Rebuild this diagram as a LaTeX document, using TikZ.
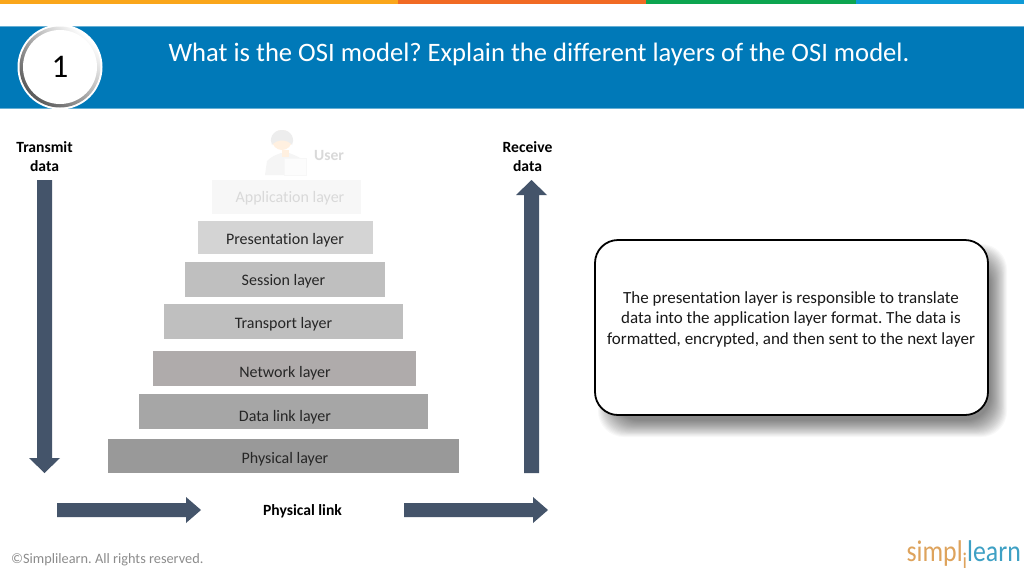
\documentclass[tikz,border=0pt]{standalone}
\usepackage{xcolor}
\usepackage{fontspec}
\setmainfont{Carlito}[Ligatures=CommonOff]
\frenchspacing
\usetikzlibrary{calc}
\definecolor{stripA}{RGB}{250,166,26}
\definecolor{stripB}{RGB}{241,106,36}
\definecolor{stripC}{RGB}{13,165,80}
\definecolor{stripD}{RGB}{15,155,215}
\definecolor{banner}{RGB}{0,121,184}
\definecolor{slate}{RGB}{68,84,106}
\definecolor{netgray}{RGB}{175,171,171}
\definecolor{logoA}{RGB}{222,163,92}
\definecolor{logoB}{RGB}{62,160,196}
\tikzset{
  layertext/.style={font=\fontsize{16}{19}\selectfont, text=black!85, inner sep=0pt},
  headtext/.style={font=\fontsize{15.6}{19}\selectfont\bfseries, align=center, inner sep=0pt},
}

\begin{document}
\begin{tikzpicture}[x=1pt,y=-1pt]

% ---- page ----
\useasboundingbox (0,0) rectangle (1024,576);
\fill[white] (0,0) rectangle (1024,576);

% Colour strip on top
\fill[stripA] (0,0) rectangle (398,4);
\fill[stripB] (398,0) rectangle (646,4);
\fill[stripC] (646,0) rectangle (856,4);
\fill[stripD] (856,0) rectangle (1024,4);

% Banner
\fill[banner] (0,26) rectangle (1024,108);
\draw[banner!60!white, line width=0.6pt] (0,26) -- (1024,26) (0,108) -- (1024,108);

% Number disc
\fill[white] (60,67) circle (42.5);
\shade[left color=white, right color=black!65, shading angle=-45] (60,67) circle (40.5);
\fill[white] (60,67) circle (37);
\node[inner sep=0pt, font=\fontsize{33}{33}\selectfont] (num) at (60,67) {1};
\node[inner sep=0pt, text=white, font=\fontsize{26.6}{30}\selectfont] (title) at (539,54)
  {What is the OSI model? Explain the different layers of the OSI model.};

% Block arrows (tail point, then tip: down, up, right)
\newcommand{\arrowdown}[3]{%
  \fill[slate] (#1-7.5,#2) -- (#1+7.5,#2) -- (#1+7.5,#3-15) -- (#1+15.5,#3-15)
    -- (#1,#3) -- (#1-15.5,#3-15) -- (#1-7.5,#3-15) -- cycle;}
\newcommand{\arrowup}[3]{%
  \fill[slate] (#1-7.5,#2) -- (#1+7.5,#2) -- (#1+7.5,#3+15) -- (#1+15.5,#3+15)
    -- (#1,#3) -- (#1-15.5,#3+15) -- (#1-7.5,#3+15) -- cycle;}
\newcommand{\arrowright}[3]{%
  \fill[slate] (#1,#3-7) -- (#2-15,#3-7) -- (#2-15,#3-13) -- (#2,#3)
    -- (#2-15,#3+13) -- (#2-15,#3+7) -- (#1,#3+7) -- cycle;}

% ---- arrows ----
\arrowdown{44.5}{180}{473}
\arrowup{531.5}{473}{180}
\arrowright{57}{201}{510}
\arrowright{404}{548}{510}

\node[headtext] (transmit) at (44.5,156.5) {Transmit\\data};
\node[headtext] (receive) at (527.5,156.5) {Receive\\data};
\node[headtext] (link) at (302.5,511) {Physical link};

% ---- user figure (faded) ----
\fill[black!4] (265,175) -- (267,161) .. controls (272,156) and (276,155) .. (281,153)
  -- (289,153) .. controls (294,155) and (300,157) .. (304,161) -- (306,175) -- cycle;
\fill[orange!12] (282,150) rectangle (289,157);
\fill[orange!12] (282,140) circle (10);
\fill[black!7] (282,130) .. controls (272,130) and (269,140) .. (272,145)
  .. controls (276,139) and (288,139) .. (292,145) .. controls (295,140) and (292,130) .. (282,130) -- cycle;
\fill[black!1] (284,158) rectangle (306,175);
\draw[black!3, line width=0.6pt] (284,158) rectangle (306,175);
\node[inner sep=0pt, text=black!15, font=\fontsize{15.6}{17}\selectfont\bfseries] (user) at (329,155.5) {User};

% ---- layers ----
\fill[black!3] (212,180) rectangle (361,214);
\fill[black!17] (198,221) rectangle (373,254);
\fill[black!25] (185,262) rectangle (385,297);
\fill[black!25] (164,304) rectangle (403,339);
\fill[netgray] (153,351) rectangle (416,386);
\fill[black!35] (139,394) rectangle (428,429);
\fill[black!40] (108,439) rectangle (459,473);

\node[layertext, text=black!15] (application) at (290,198.5) {Application layer};
\node[layertext] (presentation) at (285,240) {Presentation layer};
\node[layertext] (session) at (283.5,281.5) {Session layer};
\node[layertext] (transport) at (283.5,324) {Transport layer};
\node[layertext] (network) at (285,373) {Network layer};
\node[layertext] (datalink) at (285,417) {Data link layer};
\node[layertext] (physical) at (285,459) {Physical layer};

% ---- description box with soft shadow ----
\foreach \i in {0,...,19}
  \fill[black, opacity=0.028, rounded corners=26pt]
    ({598+\i*0.85},{244+\i*0.85}) rectangle ({1007-\i*0.85},{437-\i*0.85});
\draw[black, line width=1.8pt, fill=white, rounded corners=23pt] (595,240) rectangle (988,415);
\node[inner sep=0pt, align=center, text=black!90, font=\fontsize{17}{20.5}\selectfont] (descr) at (791,319)
  {The presentation layer is responsible to translate\\
   data into the application layer format. The data is\\
   formatted, encrypted, and then sent to the next layer};

% ---- footer ----
\node[anchor=west, inner sep=0pt, text=black!45, font=\fontsize{14.3}{16}\selectfont] (copy) at (11,559.5)
  {©Simplilearn. All rights reserved.};
\node[anchor=east, inner sep=0pt, xscale=0.86, font=\fontsize{30}{30}\selectfont] (logo) at (1021,555)
  {\textcolor{logoA}{simpl\raisebox{-7pt}{\scalebox{0.75}{i}}}\textcolor{logoB}{learn}};

\end{tikzpicture}
\end{document}
